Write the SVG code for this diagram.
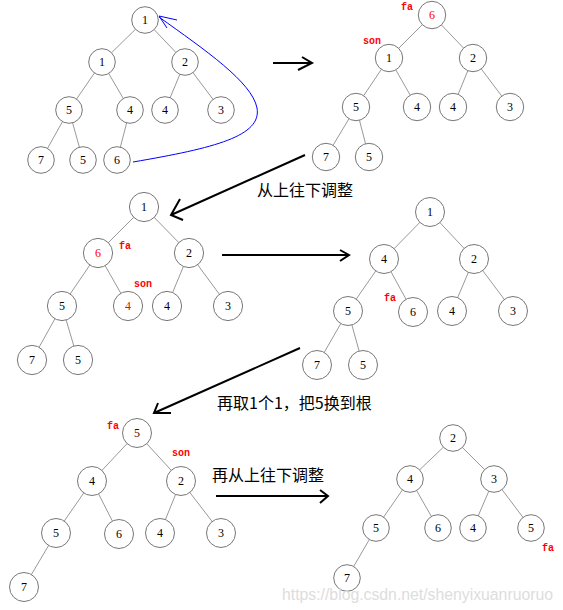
<svg xmlns="http://www.w3.org/2000/svg" width="563" height="610" viewBox="0 0 563 610">
<style>
.e{stroke:#999;stroke-width:1;fill:none}
.n circle{fill:#fff;stroke:#777;stroke-width:1}
.n text{font-family:"Liberation Serif","DejaVu Serif",serif;font-size:12px;text-anchor:middle;fill:#000}
.n text.r{fill:#f00}
.n text.dr{fill:#500}
.lb{font-family:"Liberation Mono","DejaVu Sans Mono",monospace;font-size:10px;font-weight:bold;fill:#f00;text-anchor:middle}
.ar{stroke:#000;stroke-width:2;fill:none}
.cn{font-family:"Noto Sans CJK SC","Liberation Sans",sans-serif;font-size:16px;fill:#000}
</style>
<rect width="563" height="610" fill="#fff"/>
<g id="connectors">
<path class="e" d="M145,20L102,62M145,20L185,62M102,62L69,110M102,62L130,110M185,62L165,110M185,62L221,110M69,110L41,160M69,110L83,160M130,110L117,160"/>
<path class="e" d="M432,15L389,58M432,15L473,58M389,58L356,107M389,58L417,107M473,58L453,107M473,58L510,107M356,107L326,157M356,107L369,157"/>
<path class="e" d="M144,207L98,253M144,207L189,253M98,253L62,306M98,253L128,306M189,253L167,306M189,253L228,306M62,306L32,360M62,306L78,360"/>
<path class="e" d="M430,212L384,259M430,212L474,259M384,259L348,311M384,259L413,312M474,259L452,311M474,259L513,311M348,311L317,365M348,311L363,365"/>
<path class="e" d="M137,433L92,481M137,433L181,481M92,481L56,533M92,481L119,534M181,481L160,533M181,481L221,533M56,533L24,587"/>
<path class="e" d="M453,438L410,479M453,438L494,479M410,479L376,528M410,479L438,528M494,479L473,528M494,479L531,528M376,528L347,578"/>
<path d="M133,162C215,148 262,136 257,108C252,82 205,50 159,17" fill="none" stroke="#00f" stroke-width="1"/>
<path d="M177,20L159,16L167,28" fill="none" stroke="#00f" stroke-width="1"/>
<path class="ar" d="M273,63H312M302,57L312,63L298,70"/>
<path class="ar" d="M305,155L171,215M180,199L171,215L183,220"/>
<path class="ar" d="M222,255H349M340,250L349,255L340,261"/>
<path class="ar" d="M300,348L154,413M158,403L154,413L171,413"/>
<path class="ar" d="M216,496H328M320,490L328,496L320,503"/>
</g>
<g id="tree1">
<g class="n" id="t1a"><circle cx="145" cy="20" r="13.3"/><text x="145" y="24">1</text></g>
<g class="n" id="t1b"><circle cx="102" cy="62" r="13.3"/><text x="102" y="66">1</text></g>
<g class="n" id="t1c"><circle cx="185" cy="62" r="13.3"/><text x="185" y="66">2</text></g>
<g class="n" id="t1d"><circle cx="69" cy="110" r="13.3"/><text x="69" y="114">5</text></g>
<g class="n" id="t1e"><circle cx="130" cy="110" r="13.3"/><text x="130" y="114">4</text></g>
<g class="n" id="t1f"><circle cx="165" cy="110" r="13.3"/><text x="165" y="114">4</text></g>
<g class="n" id="t1g"><circle cx="221" cy="110" r="13.3"/><text x="221" y="114">3</text></g>
<g class="n" id="t1h"><circle cx="41" cy="160" r="13.3"/><text x="41" y="164">7</text></g>
<g class="n" id="t1i"><circle cx="83" cy="160" r="13.3"/><text x="83" y="164">5</text></g>
<g class="n" id="t1j"><circle cx="117" cy="160" r="13.3"/><text x="117" y="164">6</text></g>
</g>
<g id="tree2">
<g class="n" id="t2a"><circle cx="432" cy="15" r="13.7"/><text class="r" x="432" y="19">6</text></g>
<g class="n" id="t2b"><circle cx="389" cy="58" r="13.7"/><text x="389" y="62">1</text></g>
<g class="n" id="t2c"><circle cx="473" cy="58" r="13.7"/><text x="473" y="62">2</text></g>
<g class="n" id="t2d"><circle cx="356" cy="107" r="13.7"/><text x="356" y="111">5</text></g>
<g class="n" id="t2e"><circle cx="417" cy="107" r="13.7"/><text x="417" y="111">4</text></g>
<g class="n" id="t2f"><circle cx="453" cy="107" r="13.7"/><text x="453" y="111">4</text></g>
<g class="n" id="t2g"><circle cx="510" cy="107" r="13.7"/><text x="510" y="111">3</text></g>
<g class="n" id="t2h"><circle cx="326" cy="157" r="13.7"/><text x="326" y="161">7</text></g>
<g class="n" id="t2i"><circle cx="369" cy="157" r="13.7"/><text x="369" y="161">5</text></g>
<text class="lb" x="407" y="10">fa</text>
<text class="lb" x="372" y="44">son</text>
</g>
<g id="tree3">
<g class="n" id="t3a"><circle cx="144" cy="207" r="14.6"/><text x="144" y="211">1</text></g>
<g class="n" id="t3b"><circle cx="98" cy="253" r="14.6"/><text class="r" x="98" y="257">6</text></g>
<g class="n" id="t3c"><circle cx="189" cy="253" r="14.6"/><text x="189" y="257">2</text></g>
<g class="n" id="t3d"><circle cx="62" cy="306" r="14.6"/><text x="62" y="310">5</text></g>
<g class="n" id="t3e"><circle cx="128" cy="306" r="14.6"/><text class="r" x="128" y="310">4</text></g>
<g class="n" id="t3f"><circle cx="167" cy="306" r="14.6"/><text x="167" y="310">4</text></g>
<g class="n" id="t3g"><circle cx="228" cy="306" r="14.6"/><text x="228" y="310">3</text></g>
<g class="n" id="t3h"><circle cx="32" cy="360" r="14.6"/><text x="32" y="364">7</text></g>
<g class="n" id="t3i"><circle cx="78" cy="360" r="14.6"/><text x="78" y="364">5</text></g>
<text class="lb" x="125" y="249">fa</text>
<text class="lb" x="143" y="287">son</text>
</g>
<g id="tree4">
<g class="n" id="t4a"><circle cx="430" cy="212" r="14.5"/><text x="430" y="216">1</text></g>
<g class="n" id="t4b"><circle cx="384" cy="259" r="14.5"/><text x="384" y="263">4</text></g>
<g class="n" id="t4c"><circle cx="474" cy="259" r="14.5"/><text x="474" y="263">2</text></g>
<g class="n" id="t4d"><circle cx="348" cy="311" r="14.5"/><text x="348" y="315">5</text></g>
<g class="n" id="t4e"><circle cx="413" cy="312" r="14.5"/><text x="413" y="316">6</text></g>
<g class="n" id="t4f"><circle cx="452" cy="311" r="14.5"/><text x="452" y="315">4</text></g>
<g class="n" id="t4g"><circle cx="513" cy="311" r="14.5"/><text x="513" y="315">3</text></g>
<g class="n" id="t4h"><circle cx="317" cy="365" r="14.5"/><text x="317" y="369">7</text></g>
<g class="n" id="t4i"><circle cx="363" cy="365" r="14.5"/><text x="363" y="369">5</text></g>
<text class="lb" x="390" y="301">fa</text>
</g>
<g id="tree5">
<g class="n" id="t5a"><circle cx="137" cy="433" r="14.5"/><text class="dr" x="137" y="437">5</text></g>
<g class="n" id="t5b"><circle cx="92" cy="481" r="14.5"/><text x="92" y="485">4</text></g>
<g class="n" id="t5c"><circle cx="181" cy="481" r="14.5"/><text x="181" y="485">2</text></g>
<g class="n" id="t5d"><circle cx="56" cy="533" r="14.5"/><text x="56" y="537">5</text></g>
<g class="n" id="t5e"><circle cx="119" cy="534" r="14.5"/><text x="119" y="538">6</text></g>
<g class="n" id="t5f"><circle cx="160" cy="533" r="14.5"/><text x="160" y="537">4</text></g>
<g class="n" id="t5g"><circle cx="221" cy="533" r="14.5"/><text x="221" y="537">3</text></g>
<g class="n" id="t5h"><circle cx="24" cy="587" r="14.5"/><text x="24" y="591">7</text></g>
<text class="lb" x="113" y="429">fa</text>
<text class="lb" x="181" y="456">son</text>
</g>
<g id="tree6">
<g class="n" id="t6a"><circle cx="453" cy="438" r="13.3"/><text x="453" y="442">2</text></g>
<g class="n" id="t6b"><circle cx="410" cy="479" r="13.3"/><text x="410" y="483">4</text></g>
<g class="n" id="t6c"><circle cx="494" cy="479" r="13.3"/><text x="494" y="483">3</text></g>
<g class="n" id="t6d"><circle cx="376" cy="528" r="13.3"/><text x="376" y="532">5</text></g>
<g class="n" id="t6e"><circle cx="438" cy="528" r="13.3"/><text x="438" y="532">6</text></g>
<g class="n" id="t6f"><circle cx="473" cy="528" r="13.3"/><text x="473" y="532">4</text></g>
<g class="n" id="t6g"><circle cx="531" cy="528" r="13.3"/><text x="531" y="532">5</text></g>
<g class="n" id="t6h"><circle cx="347" cy="578" r="13.3"/><text x="347" y="582">7</text></g>
<text class="lb" x="548" y="551">fa</text>
</g>
<g id="captions">
<text class="cn" x="257" y="196">从上往下调整</text>
<text class="cn" x="217" y="409">再取1个1，把5换到根</text>
<text class="cn" x="212" y="481">再从上往下调整</text>
<text x="282" y="600" font-family="Liberation Sans, Arial, sans-serif" font-size="16" fill="#ddd" textLength="271" lengthAdjust="spacingAndGlyphs">https://blog.csdn.net/shenyixuanruoruo</text>
</g>
</svg>
